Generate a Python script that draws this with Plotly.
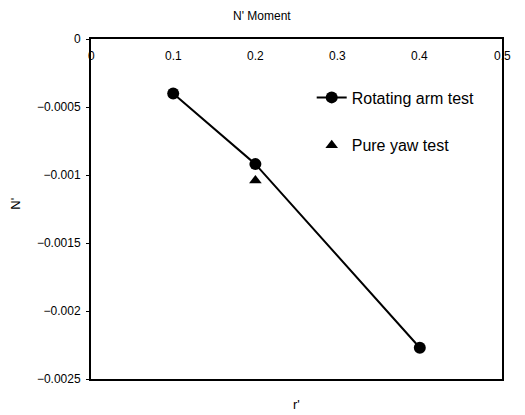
import plotly.graph_objects as go

# Data
arm_r = [0.1, 0.2, 0.4]
arm_n = [-0.0004, -0.00092, -0.00227]
yaw_r = [0.2]
yaw_n = [-0.00104]

x_ticks = [0, 0.1, 0.2, 0.3, 0.4, 0.5]
x_ticktext = ["0", "0.1", "0.2", "0.3", "0.4", "0.5"]
y_ticks = [0, -0.0005, -0.001, -0.0015, -0.002, -0.0025]
y_ticktext = ["0", "\u22120.0005", "\u22120.001", "\u22120.0015", "\u22120.002", "\u22120.0025"]

FONT = "Liberation Sans, Arial, sans-serif"

fig = go.Figure()
fig.add_trace(go.Scatter(
    x=arm_r, y=arm_n, mode="lines+markers", name="Rotating arm test",
    line=dict(color="black", width=2),
    marker=dict(symbol="circle", size=12, color="black"),
    legendgroup="a",
))
fig.add_trace(go.Scatter(
    x=yaw_r, y=yaw_n, mode="markers", name="Pure yaw test",
    marker=dict(symbol="triangle-up", size=11, color="black"),
    legendgroup="b",
))

# x tick labels drawn inside the plot, below the top axis line
annotations = [
    dict(text=t, x=v, y=0, xref="x", yref="y", xanchor="center", yanchor="middle",
         yshift=-17, showarrow=False, font=dict(family=FONT, size=12, color="black"))
    for v, t in zip(x_ticks, x_ticktext)
]
annotations.append(dict(text="r'", xref="paper", yref="paper", x=0.5, y=-0.074,
                        xanchor="center", yanchor="middle", showarrow=False,
                        font=dict(family=FONT, size=13, color="black")))
annotations.append(dict(text="N'", xref="paper", yref="paper", x=-0.183, y=0.515,
                        xanchor="center", yanchor="middle", textangle=-90, showarrow=False,
                        font=dict(family=FONT, size=13, color="black")))
annotations.append(dict(text="N' Moment", xref="paper", yref="paper", x=0.416, y=1.0,
                        yshift=23, xanchor="center", yanchor="middle", showarrow=False,
                        font=dict(family=FONT, size=12, color="black")))

fig.update_layout(
    width=525, height=415,
    margin=dict(l=83, r=31, t=31, b=44, autoexpand=False),
    paper_bgcolor="white", plot_bgcolor="white",
    font=dict(family=FONT, size=12, color="black"),
    showlegend=True,
    legend=dict(x=0.537, y=0.878, xanchor="left", yanchor="top",
                bgcolor="rgba(0,0,0,0)", font=dict(family=FONT, size=16, color="black"),
                tracegroupgap=24, traceorder="grouped"),
    xaxis=dict(
        range=[0, 0.5], side="top", tickvals=x_ticks, showticklabels=False,
        ticks="", showgrid=False, zeroline=False, automargin=False,
        showline=True, linecolor="black", linewidth=2, mirror=True,
    ),
    yaxis=dict(
        range=[-0.0025, 0], tickvals=y_ticks, ticktext=y_ticktext,
        ticks="outside", ticklen=3, tickcolor="black", showgrid=False, zeroline=False,
        automargin=False, ticklabelstandoff=3,
        showline=True, linecolor="black", linewidth=2, mirror=True,
        tickfont=dict(family=FONT, size=12, color="black"),
    ),
    annotations=annotations,
)

fig.write_html("out.html")
